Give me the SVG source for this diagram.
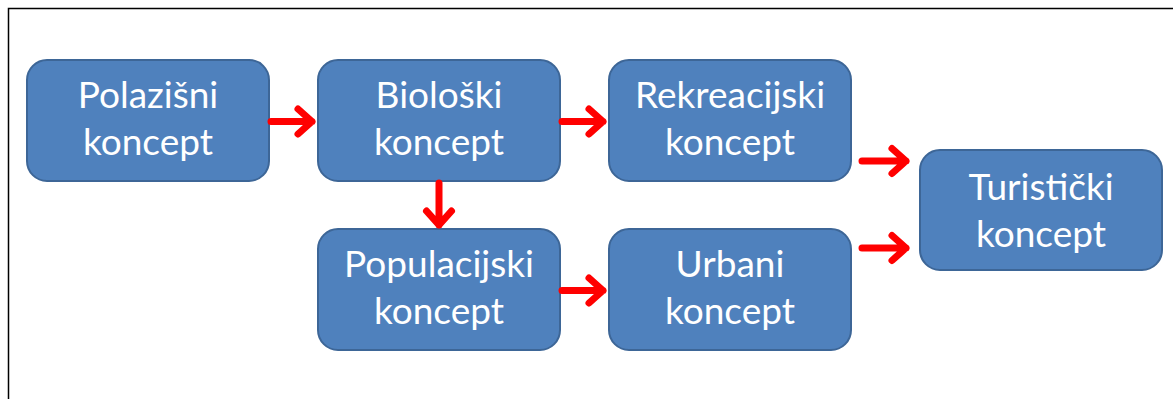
<svg xmlns="http://www.w3.org/2000/svg" width="1173" height="399" viewBox="0 0 1173 399">
<defs>
<style>
.box{fill:#4F81BD;stroke:#3D6697;stroke-width:2}
.t{fill:#ffffff;font-family:Lato,"Open Sans","Liberation Sans",sans-serif;font-size:37px;text-anchor:middle}
.arr{fill:none;stroke:#FF0000;stroke-width:7;stroke-linecap:round;stroke-linejoin:round}
</style>
</defs>
<rect x="0" y="0" width="1173" height="399" fill="#ffffff"/>
<path d="M8.5 399 V8.5 H1173" fill="none" stroke="#000000" stroke-width="1.5"/>
<g id="n1"><rect class="box" x="27" y="60" width="242" height="121" rx="20"/><text class="t" x="148" y="108">Polazišni</text><text class="t" x="148" y="155">koncept</text></g>
<g id="n2"><rect class="box" x="318" y="60" width="242" height="121" rx="20"/><text class="t" x="439" y="108">Biološki</text><text class="t" x="439" y="155">koncept</text></g>
<g id="n3"><rect class="box" x="609" y="60" width="242" height="121" rx="20"/><text class="t" x="730" y="108">Rekreacijski</text><text class="t" x="730" y="155">koncept</text></g>
<g id="n4"><rect class="box" x="318" y="229" width="242" height="121" rx="20"/><text class="t" x="439" y="277">Populacijski</text><text class="t" x="439" y="324">koncept</text></g>
<g id="n5"><rect class="box" x="609" y="229" width="242" height="121" rx="20"/><text class="t" x="730" y="277">Urbani</text><text class="t" x="730" y="324">koncept</text></g>
<g id="n6"><rect class="box" x="920" y="150" width="242" height="120" rx="20"/><text class="t" x="1041" y="200">Turistički</text><text class="t" x="1041" y="247">koncept</text></g>
<g id="connectors">
<path class="arr" d="M271 121.5 H312 M298 109 L312 121.5 L298 134"/>
<path class="arr" d="M562 121.5 H603 M589 109 L603 121.5 L589 134"/>
<path class="arr" d="M562 290.5 H603 M589 278 L603 290.5 L589 303"/>
<path class="arr" d="M439 183 V225 M426.5 211 L439 225 L451.5 211"/>
<path class="arr" d="M862 161 H906 M892 148.5 L906 161 L892 173.5"/>
<path class="arr" d="M862 248 H906 M892 235.5 L906 248 L892 260.5"/>
</g>
</svg>
